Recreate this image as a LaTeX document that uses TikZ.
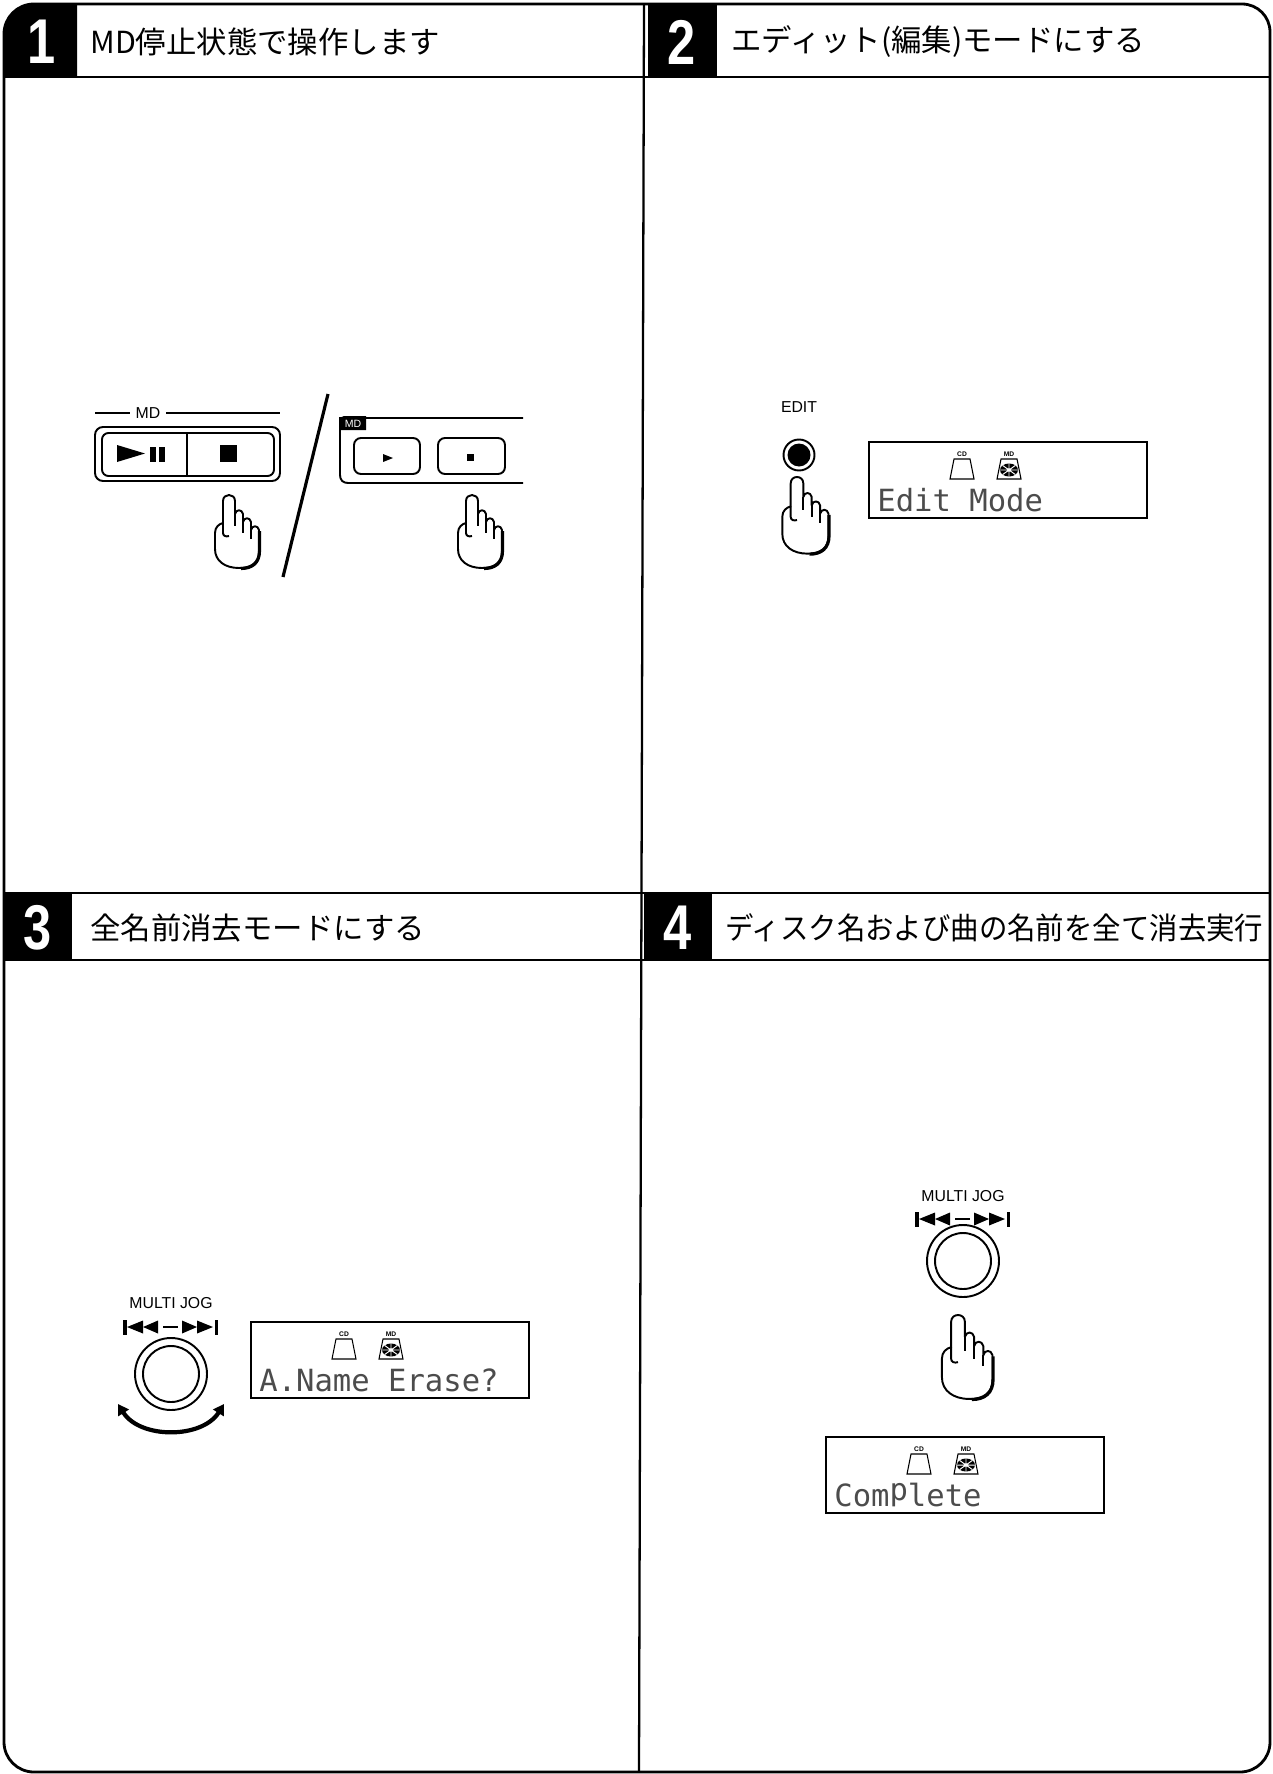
\documentclass[tikz,border=0pt]{standalone}
\usepackage{fontspec}
\usepackage{graphicx}
\usetikzlibrary{arrows.meta}
\newfontfamily\jp{Noto Sans CJK JP}
\newfontfamily\sansf{Liberation Sans}
\newfontfamily\lcdf{DejaVu Sans Mono}

\tikzset{
  frame/.style={line width=1.6pt},
  rule/.style={line width=1.3pt},
  outl/.style={line width=1.1pt},
  thinl/.style={line width=0.8pt},
  ttl/.style={font=\jp\fontsize{17.3}{20}\selectfont, anchor=west, inner sep=0pt},
  num/.style={font=\sansf\bfseries\fontsize{36}{36}\selectfont, text=white, inner sep=0pt},
  lbl/.style={font=\sansf\fontsize{9}{10}\selectfont, inner sep=0pt},
  lcd/.style={font=\lcdf\fontsize{17.4}{20}\selectfont, text=black!70, anchor=base west, inner sep=0pt},
  tag/.style={font=\sansf\bfseries\fontsize{3.8}{4}\selectfont, inner sep=0pt},
  % pointing hand, fingertip at the origin
  hand/.pic={
    \draw[outl, fill=white, line join=round]
      (-6,28) -- (-6,6) .. controls (-6,-2) and (6,-2) .. (6,6) -- (6,19)
      .. controls (7,14) and (13,14) .. (14,19) -- (14,27)
      .. controls (15,22) and (21,22) .. (22,27) -- (22,35)
      .. controls (23,30) and (29,30) .. (30,35) -- (30,56)
      .. controls (30,68) and (22,73) .. (10,73)
      .. controls (-4,73) and (-14,66) .. (-14,54) -- (-14,38)
      .. controls (-14,32) and (-10,29) .. (-6,28) -- cycle;
    \draw[outl] (6,19) -- (6,31) (14,27) -- (14,38) (22,35) -- (22,44);
    \draw[outl] (-6,28) -- (-6,38) .. controls (-6,41) and (-3,42) .. (0,41);
    \draw[line width=1.8pt] (30.5,36) -- (30.5,56) .. controls (30.5,68) and (23,73.5) .. (12,73.5);
  },
  % CD indicator of the display
  cdicon/.pic={
    \draw[line width=0.6pt] (-8,-10) -- (8,-10) -- (12,10) -- (-12,10) -- cycle;
    \node[tag] (-lab) at (0,-15) {CD};
  },
  % MD indicator of the display
  mdicon/.pic={
    \draw[line width=0.6pt] (-8,-10) -- (8,-10) -- (12,10) -- (-12,10) -- cycle;
    \fill (0,1) ellipse (9 and 6.5);
    \draw[white, line width=0.55pt] (-9,1) -- (9,1) (0,-5.5) -- (0,7.5)
      (-6.4,-3.6) -- (6.4,5.6) (-6.4,5.6) -- (6.4,-3.6);
    \fill[white] (0,1) ellipse (2.4 and 1.7);
    \node[tag] (-lab) at (0,-15) {MD};
  },
  % LCD window with both indicators and one line of text
  lcdbox/.pic={
    \draw[thinl] (0,0) rectangle (278,76);
    \pic (-cd) at (93,27) {cdicon};
    \pic (-md) at (140,27) {mdicon};
    \node[lcd] (-txt) at (8,69) {#1};
  },
  % skip marks above the jog dial
  trackmark/.pic={
    \fill (-48,-7.5) rectangle (-44.5,7.5);
    \fill (-44,0) -- (-28,-6.5) -- (-28,6.5) -- cycle;
    \fill (-28,0) -- (-13,-6.5) -- (-13,6.5) -- cycle;
    \draw[line width=0.6pt] (-8,0) -- (7,0);
    \fill (11,-6.5) -- (26,0) -- (11,6.5) -- cycle;
    \fill (26,-6.5) -- (42,0) -- (26,6.5) -- cycle;
    \fill (43.5,-7.5) rectangle (47,7.5);
  },
  jog/.pic={
    \draw[outl] (0,0) circle (36);
    \draw[outl] (0,0) circle (28);
  },
}

\begin{document}
\begin{tikzpicture}[x=0.02cm, y=-0.02cm]
\useasboundingbox (0,0) rectangle (1273,1774);

% ---------- frame and headers ----------
\fill (4,77) -- (4,34) .. controls (4,17.4) and (17.4,4) .. (34,4) -- (77,4) -- (77,77) -- cycle;
\fill (648,4) rectangle (717,77);
\fill (4,893) rectangle (72,960);
\fill (644,893) rectangle (712,960);

\draw[frame] (4,34) -- (4,1742) .. controls (4,1758.6) and (17.4,1772) .. (34,1772)
  -- (1240,1772) .. controls (1256.6,1772) and (1270,1758.6) .. (1270,1742)
  -- (1270,32) .. controls (1270,16.5) and (1257.5,4) .. (1242,4)
  -- (34,4) .. controls (17.4,4) and (4,17.4) .. (4,34) -- cycle;
\draw[rule] (4,77) -- (1270,77);
\draw[rule] (4,893) -- (1270,893);
\draw[rule] (4,960) -- (1270,960);
\draw[rule] (644,4) -- (639,1772);

\node[num] (n1) at (42,42) {\scalebox{0.8}[1]{1}};
\node[num] (n2) at (682,42) {\scalebox{0.8}[1]{2}};
\node[num] (n3) at (38,928) {\scalebox{0.8}[1]{3}};
\node[num] (n4) at (678,928) {\scalebox{0.8}[1]{4}};

\node[ttl] (t1) at (90,42) {MD停止状態で操作します};
\node[ttl] (t2) at (731,42) {エディット(編集)モードにする};
\node[ttl] (t3) at (90,928) {全名前消去モードにする};
\node[ttl] (t4) at (725,928) {\scalebox{0.935}[1]{ディスク名および曲の名前を全て消去実行}};

% ---------- step 1: stop buttons ----------
\node[lbl] (mdlab) at (148,413) {MD};
\draw[thinl] (95,413) -- (130,413);
\draw[thinl] (166,413) -- (280,413);
\draw[outl, rounded corners=0.16cm] (95,427) rectangle (280,481);
\draw[outl, rounded corners=0.13cm] (102,433) rectangle (274,476);
\draw[outl] (187,433) -- (187,476);
\fill (117,445) -- (145,453.5) -- (117,462) -- cycle;
\fill (150,447) rectangle (156,462);
\fill (159,447) rectangle (165,462);
\fill (220,445) rectangle (237,462);
\pic at (229,495) {hand};

\draw[line width=1.8pt] (328,394) -- (283,577);

\draw[outl] (523,418) -- (340,418) -- (340,475) .. controls (340,480) and (343,483) .. (348,483) -- (523,483);
\fill (340,430) -- (340,421) .. controls (340,418) and (341,416) .. (344,416) -- (366,416) -- (366,430) -- cycle;
\node[font=\sansf\fontsize{6}{6}\selectfont, text=white, inner sep=0pt] (mdtag) at (353,423.5) {MD};
\draw[outl, rounded corners=0.14cm] (354,438) rectangle (420,474);
\draw[outl, rounded corners=0.14cm] (438,438) rectangle (505,474);
\fill (383,454) -- (393,458) -- (383,462) -- cycle;
\fill (467,454) rectangle (474,461);
\pic at (472,495) {hand};

% ---------- step 2: EDIT button ----------
\node[lbl] (editlab) at (799,407) {EDIT};
\draw[outl] (799,455) circle (15.5);
\fill (799,455) circle (11.5);
\pic[scale=1.05] at (797,477) {hand};
\pic (disp2) at (869,442) {lcdbox={Edit Mode}};

% ---------- step 3: turn the jog dial ----------
\node[lbl] (jog3lab) at (171,1303) {MULTI JOG};
\pic at (171,1327) {trackmark};
\pic at (171,1374) {jog};
\draw[line width=2.4pt, {Triangle[length=6pt,width=7pt]}-{Triangle[length=6pt,width=7pt]}]
  (118,1404) .. controls (140,1439) and (202,1439) .. (224,1404);
\pic (disp3) at (251,1322) {lcdbox={A.Name Erase?}};

% ---------- step 4: press the jog dial ----------
\node[lbl] (jog4lab) at (963,1196) {MULTI JOG};
\pic at (963,1219) {trackmark};
\pic at (963,1261) {jog};
\pic[scale=1.15] at (958,1315) {hand};
\pic (disp4) at (826,1437) {lcdbox={Com\raisebox{0.19em}{p}lete}};

\end{tikzpicture}
\end{document}
